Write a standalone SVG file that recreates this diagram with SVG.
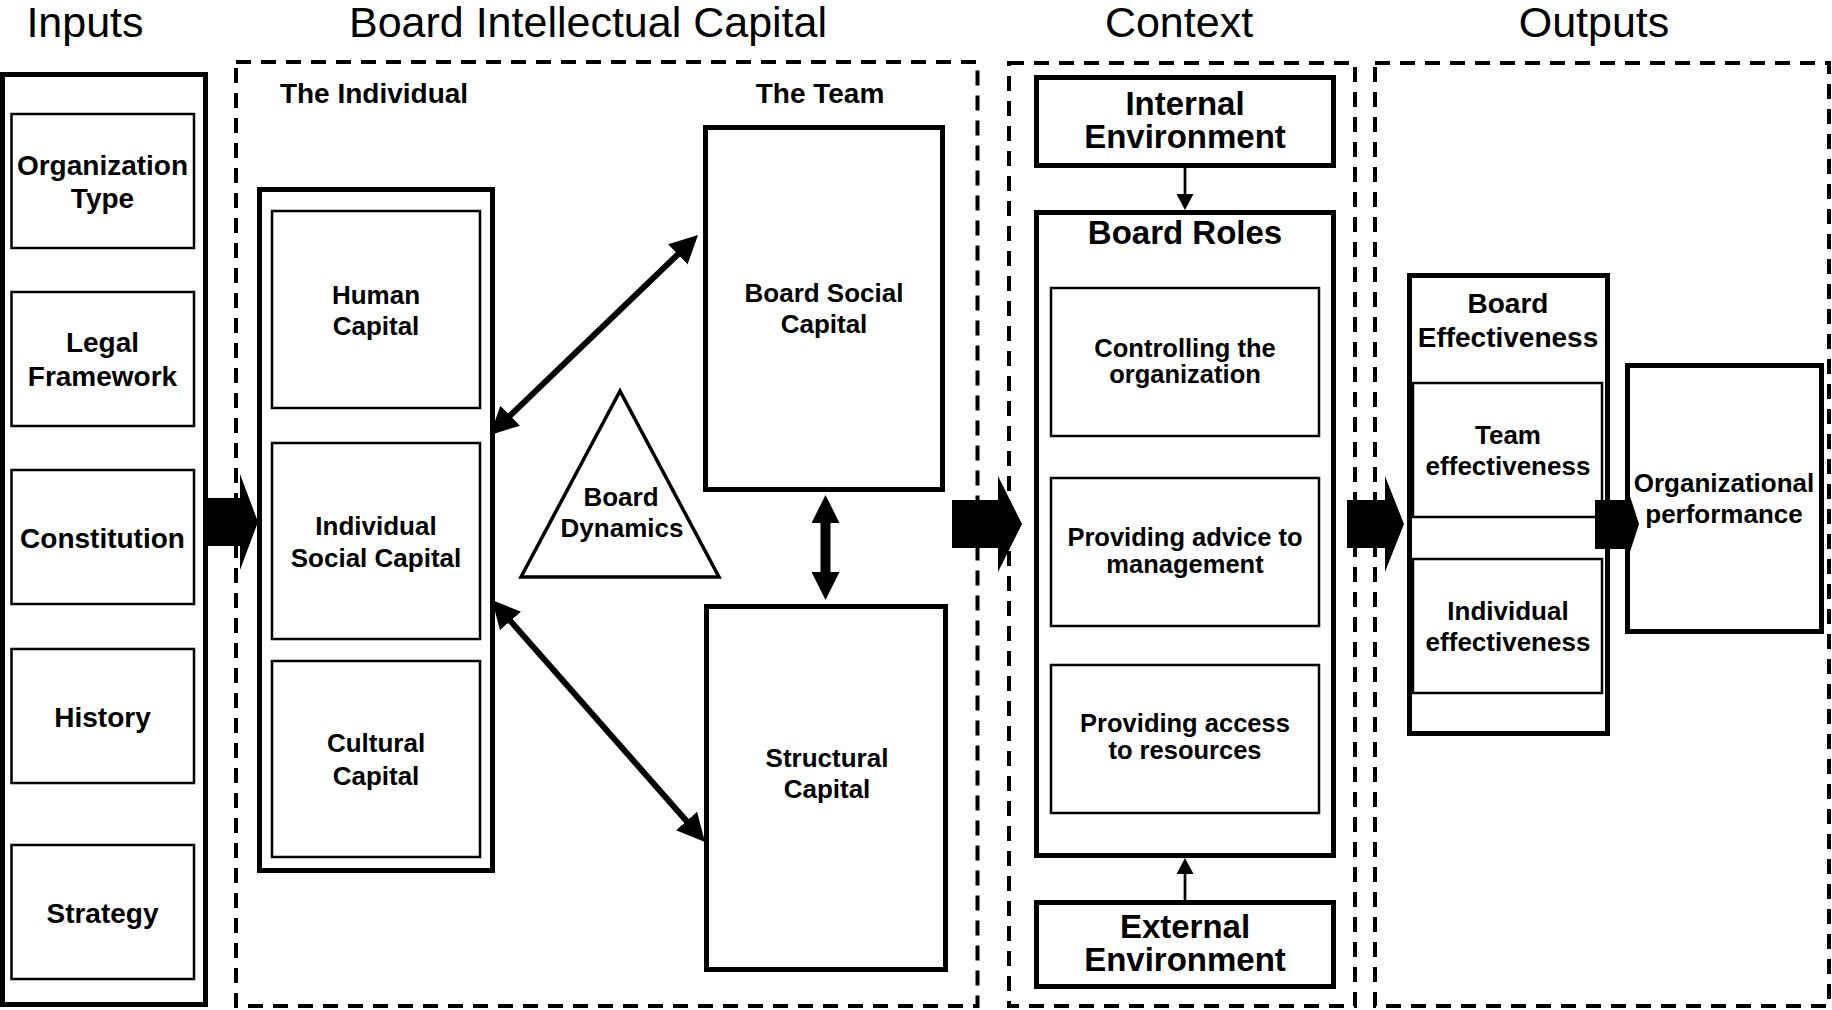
<svg xmlns="http://www.w3.org/2000/svg" width="1832" height="1010" viewBox="0 0 1832 1010">
<style>
text{font-family:"Liberation Sans",Arial,sans-serif;fill:#000;text-anchor:middle}
.title{font-size:43px;font-weight:normal}
.b{font-weight:bold}
.f33{font-size:33px}
.f28{font-size:28px}
.f26{font-size:26px}
.f25{font-size:25.5px}
.grp{fill:none;stroke:#000;stroke-width:4;stroke-dasharray:15 10}
.thick{fill:#fff;stroke:#000;stroke-width:5}
.thin{fill:#fff;stroke:#000;stroke-width:2.5}
.tri{fill:#fff;stroke:#000;stroke-width:3.5;stroke-linejoin:miter}
.line{fill:none;stroke:#000}
.block{fill:#000;stroke:none}
</style>
<defs>
<marker id="ah" markerUnits="userSpaceOnUse" markerWidth="28" markerHeight="28" refX="8" refY="14" orient="auto-start-reverse" viewBox="0 0 28 28"><path d="M0,0 L28,14 L0,28 z" fill="#000"/></marker>
<marker id="sh" markerUnits="userSpaceOnUse" markerWidth="16" markerHeight="17" refX="5" refY="8.5" orient="auto" viewBox="0 0 16 17"><path d="M0,0 L16,8.5 L0,17 z" fill="#000"/></marker>
</defs>
<rect width="1832" height="1010" fill="#fff"/>

<g id="titles">
<text class="title" x="85" y="37">Inputs</text>
<text class="title" x="588" y="37">Board Intellectual Capital</text>
<text class="title" x="1179" y="37">Context</text>
<text class="title" x="1594" y="37">Outputs</text>
</g>

<g id="groups">
<rect id="grp-bic" class="grp" x="236" y="62" width="741.5" height="944"/>
<rect id="grp-context" class="grp" x="1009" y="63" width="346" height="943"/>
<rect id="grp-outputs" class="grp" x="1375" y="63" width="454" height="943"/>
<text class="b f28" x="374" y="103">The Individual</text>
<text class="b f28" x="820" y="103">The Team</text>
</g>

<g id="inputs">
<rect class="thick" x="2.5" y="74.5" width="203" height="930"/>
<g id="org-type"><rect class="thin" x="11.5" y="114" width="182.5" height="134"/><text class="b f28"><tspan x="102.5" y="175">Organization</tspan><tspan x="102.5" y="208">Type</tspan></text></g>
<g id="legal"><rect class="thin" x="11.5" y="292" width="182.5" height="134"/><text class="b f28"><tspan x="102.5" y="352">Legal</tspan><tspan x="102.5" y="386">Framework</tspan></text></g>
<g id="constitution"><rect class="thin" x="11.5" y="470" width="182.5" height="134"/><text class="b f28" x="102.5" y="548">Constitution</text></g>
<g id="history"><rect class="thin" x="11.5" y="649" width="182.5" height="134"/><text class="b f28" x="102.5" y="727">History</text></g>
<g id="strategy"><rect class="thin" x="11.5" y="845" width="182.5" height="134"/><text class="b f28" x="102.5" y="923">Strategy</text></g>
</g>

<g id="individual">
<rect class="thick" x="259.5" y="189.5" width="233" height="681"/>
<g id="human-capital"><rect class="thin" x="272" y="211" width="208" height="197"/><text class="b f26"><tspan x="376" y="304">Human</tspan><tspan x="376" y="335">Capital</tspan></text></g>
<g id="individual-social-capital"><rect class="thin" x="272" y="443" width="208" height="196"/><text class="b f26"><tspan x="376" y="535">Individual</tspan><tspan x="376" y="567">Social Capital</tspan></text></g>
<g id="cultural-capital"><rect class="thin" x="272" y="661" width="208" height="196"/><text class="b f26"><tspan x="376" y="752">Cultural</tspan><tspan x="376" y="785">Capital</tspan></text></g>
</g>

<g id="board-social-capital"><rect class="thick" x="705.5" y="127.5" width="237" height="362"/><text class="b f26"><tspan x="824" y="302">Board Social</tspan><tspan x="824" y="333">Capital</tspan></text></g>
<g id="structural-capital"><rect class="thick" x="706.5" y="606.5" width="239" height="363"/><text class="b f26"><tspan x="827" y="767">Structural</tspan><tspan x="827" y="798">Capital</tspan></text></g>
<g id="board-dynamics"><polygon class="tri" points="620,391 521,577 719,577"/><text class="b f26"><tspan x="621" y="506">Board</tspan><tspan x="622" y="537">Dynamics</tspan></text></g>

<g id="internal-environment"><rect class="thick" x="1036.5" y="77.5" width="297" height="88"/><text class="b f33"><tspan x="1185" y="115">Internal</tspan><tspan x="1185" y="148">Environment</tspan></text></g>
<g id="board-roles">
<rect class="thick" x="1036.5" y="212.5" width="297" height="643"/>
<text class="b f33" x="1185" y="244">Board Roles</text>
<g id="controlling"><rect class="thin" x="1051" y="288" width="268" height="148"/><text class="b f25"><tspan x="1185" y="357">Controlling the</tspan><tspan x="1185" y="383">organization</tspan></text></g>
<g id="advice"><rect class="thin" x="1051" y="478" width="268" height="148"/><text class="b f25"><tspan x="1185" y="546">Providing advice to</tspan><tspan x="1185" y="573">management</tspan></text></g>
<g id="access"><rect class="thin" x="1051" y="665" width="268" height="148"/><text class="b f25"><tspan x="1185" y="732">Providing access</tspan><tspan x="1185" y="759">to resources</tspan></text></g>
</g>
<g id="external-environment"><rect class="thick" x="1036.5" y="902.5" width="297" height="84"/><text class="b f33"><tspan x="1185" y="938">External</tspan><tspan x="1185" y="971">Environment</tspan></text></g>

<g id="board-effectiveness">
<rect class="thick" x="1409.5" y="275.5" width="198" height="458"/>
<text class="b f28"><tspan x="1508" y="313">Board</tspan><tspan x="1508" y="347">Effectiveness</tspan></text>
<g id="team-effectiveness"><rect class="thin" x="1413" y="383" width="189" height="134"/><text class="b f26"><tspan x="1508" y="444">Team</tspan><tspan x="1508" y="475">effectiveness</tspan></text></g>
<g id="individual-effectiveness"><rect class="thin" x="1413" y="559" width="189" height="134"/><text class="b f26"><tspan x="1508" y="620">Individual</tspan><tspan x="1508" y="651">effectiveness</tspan></text></g>
</g>
<g id="organizational-performance"><rect class="thick" x="1627.5" y="365.5" width="194" height="266"/><text class="b f26"><tspan x="1724" y="492">Organizational</tspan><tspan x="1724" y="523">performance</tspan></text></g>

<g id="connectors">
<polygon class="block" points="205,498 240,498 240,474 258,522 240,570 240,546 205,546"/>
<polygon class="block" points="952,500 998,500 998,476 1022,524 998,572 998,548 952,548"/>
<polygon class="block" points="1347,500 1385,500 1385,476 1404,524 1385,572 1385,548 1347,548"/>
<polygon class="block" points="1595,500 1627,500 1627,487 1639,524 1627,561 1627,549 1595,549"/>
<line class="line" stroke-width="6" x1="504.4" y1="421.1" x2="683.6" y2="248.9" marker-start="url(#ah)" marker-end="url(#ah)"/>
<line class="line" stroke-width="6" x1="505.2" y1="615" x2="691.8" y2="827" marker-start="url(#ah)" marker-end="url(#ah)"/>
<line class="line" stroke-width="10" x1="825.5" y1="515" x2="825.5" y2="580" marker-start="url(#ah)" marker-end="url(#ah)"/>
<line class="line" stroke-width="2.7" x1="1185" y1="166" x2="1185" y2="199" marker-end="url(#sh)"/>
<line class="line" stroke-width="2.7" x1="1185" y1="901" x2="1185" y2="869" marker-end="url(#sh)"/>
</g>
</svg>
